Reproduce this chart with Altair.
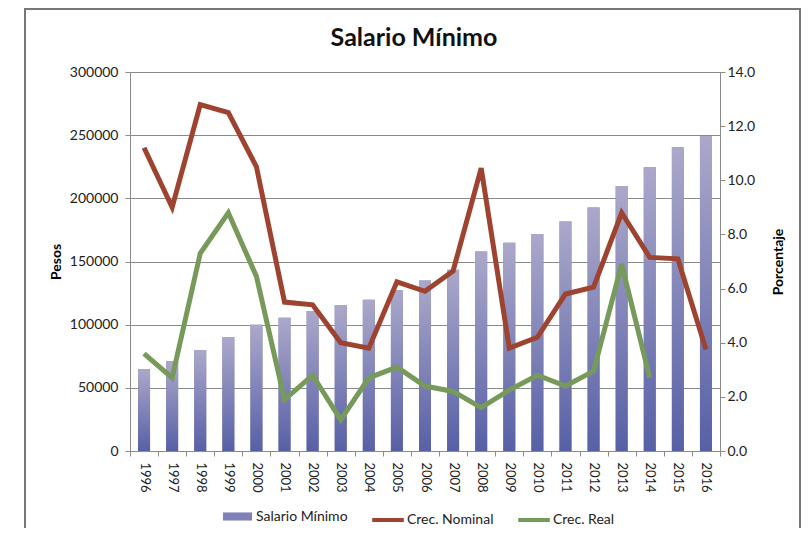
import altair as alt
import pandas as pd

years = [str(y) for y in range(1996, 2017)]
salario = [65000, 71000, 80000, 90000, 100000, 105500, 110800, 115500, 119800, 127400,
           135000, 143500, 158000, 164800, 171700, 181700, 192800, 209800, 224700, 240500, 249300]
nominal = [11.2, 9.0, 12.8, 12.5, 10.5, 5.5, 5.4, 4.0, 3.8, 6.25,
           5.9, 6.65, 10.45, 3.8, 4.2, 5.8, 6.05, 8.8, 7.15, 7.1, 3.75]
real = [3.6, 2.7, 7.3, 8.8, 6.45, 1.9, 2.8, 1.15, 2.7, 3.1,
        2.4, 2.2, 1.6, 2.25, 2.8, 2.4, 2.95, 6.9, 2.7, None, None]

series_names = ["Salario Mínimo", "Crec. Nominal", "Crec. Real"]
left_ticks = [0, 50000, 100000, 150000, 200000, 250000, 300000]
right_ticks = [0, 2, 4, 6, 8, 10, 12, 14]

FONT = "Lato"
GRAY = "#8a8a8a"
RED = "#9e4330"
GREEN = "#779a5a"

bars_df = pd.DataFrame({"year": years, "salario": salario, "series": series_names[0]})
lines_df = pd.concat([
    pd.DataFrame({"year": years, "value": nominal, "series": series_names[1]}),
    pd.DataFrame({"year": years, "value": real, "series": series_names[2]}),
]).dropna()

x_enc = alt.X(
    "year:O",
    sort=years,
    scale=alt.Scale(domain=years, paddingInner=0, paddingOuter=0),
    axis=alt.Axis(
        title=None, labelAngle=90, labelFont=FONT, labelFontSize=13, labelColor="#222",
        labelPadding=6, tickBand="extent", tickSize=5, tickColor=GRAY,
        domainColor=GRAY, grid=False,
    ),
)

y_left = alt.Y(
    "salario:Q",
    scale=alt.Scale(domain=[0, 300000]),
    axis=alt.Axis(
        title="Pesos", values=left_ticks, format="d", grid=True, gridColor=GRAY,
        labelFont=FONT, labelFontSize=14, labelColor="#222", labelPadding=7,
        tickSize=5, tickColor=GRAY, domainColor=GRAY,
        titleFont=FONT, titleFontSize=14, titleFontWeight="bold", titleColor="#000",
        titlePadding=6,
    ),
)

bar_base = alt.Chart(bars_df).mark_bar(size=12).encode(
    x=x_enc,
    y=y_left,
    fill=alt.Fill(
        "series:N",
        scale=alt.Scale(domain=[series_names[0]], range=["#7f81b8"]),
        legend=alt.Legend(
            title=None, orient="none", legendX=93, legendY=430, direction="horizontal",
            symbolType="M-1,-0.28H1V0.28H-1Z", symbolSize=841, symbolStrokeWidth=0,
            labelFont=FONT, labelFontSize=14, labelColor="#222", labelOffset=4, padding=0,
        ),
    ),
)

bar_grad = alt.Chart(bars_df).mark_bar(
    size=12,
    color=alt.Gradient(
        gradient="linear",
        stops=[alt.GradientStop(color="#aba8ca", offset=0),
               alt.GradientStop(color="#5760a6", offset=1)],
        x1=0, x2=0, y1=0, y2=1,
    ),
).encode(x=x_enc, y=y_left)

bars = alt.layer(bar_base, bar_grad)

lines = alt.Chart(lines_df).mark_line(strokeWidth=5).encode(
    x=x_enc,
    y=alt.Y(
        "value:Q",
        scale=alt.Scale(domain=[0, 14]),
        axis=alt.Axis(
            orient="right", title="Porcentaje", values=right_ticks, format=".1f", grid=False,
            labelFont=FONT, labelFontSize=14, labelColor="#222", labelPadding=2,
            tickSize=5, tickColor=GRAY, domainColor=GRAY,
            titleFont=FONT, titleFontSize=14, titleFontWeight="bold", titleColor="#000",
            titleAngle=270, titlePadding=31,
        ),
    ),
    stroke=alt.Stroke(
        "series:N",
        scale=alt.Scale(domain=series_names[1:], range=[RED, GREEN]),
        legend=alt.Legend(
            title=None, orient="none", legendX=240, legendY=430, direction="horizontal",
            symbolType="stroke", symbolSize=1000, symbolStrokeWidth=4,
            labelFont=FONT, labelFontSize=14, labelColor="#222", labelOffset=1,
            columnPadding=16, padding=0,
        ),
    ),
    order=alt.Order("year:O"),
)

frame = alt.Chart(alt.Data(values=[{}])).mark_rect(
    filled=False, stroke="#777777", strokeWidth=2
).encode(
    x=alt.value(-105), x2=alt.value(670), y=alt.value(-63), y2=alt.value(480)
)

chart = alt.layer(frame, bars, lines).resolve_scale(
    y="independent", fill="independent", stroke="independent"
).properties(
    width=590,
    height=379,
    padding={"left": 122, "top": 64, "right": 82, "bottom": 77},
    autosize=alt.AutoSizeParams(type="none"),
    title=alt.Title(
        "Salario Mínimo", font=FONT, fontSize=25, fontWeight="bold", color="#111",
        anchor="middle", dx=-11, dy=43, offset=0,
    ),
).configure_view(stroke=None)

chart.save("out.html", embed_options={"renderer": "svg", "actions": False})
